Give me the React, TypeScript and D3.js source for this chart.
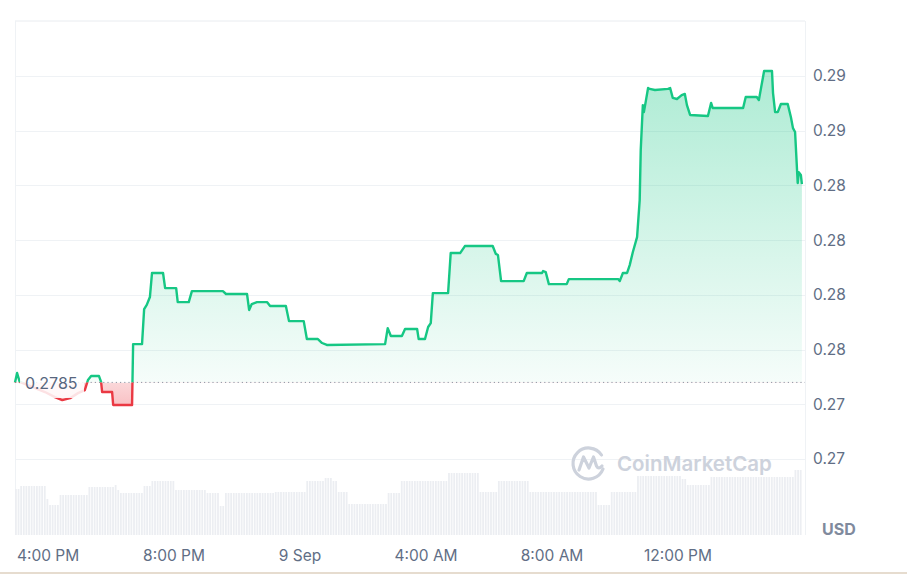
import React from "react";
import * as d3 from "d3";

// ---- data ----
const times = [
  "2024-09-08 14:57", "2024-09-08 15:01", "2024-09-08 15:06", "2024-09-08 15:26", "2024-09-08 15:54",
  "2024-09-08 16:13", "2024-09-08 16:27", "2024-09-08 16:42", "2024-09-08 16:57", "2024-09-08 17:10",
  "2024-09-08 17:16", "2024-09-08 17:22", "2024-09-08 17:37", "2024-09-08 17:41", "2024-09-08 17:43",
  "2024-09-08 18:02", "2024-09-08 18:04", "2024-09-08 18:40", "2024-09-08 18:42", "2024-09-08 18:59",
  "2024-09-08 19:03", "2024-09-08 19:08", "2024-09-08 19:14", "2024-09-08 19:18", "2024-09-08 19:39",
  "2024-09-08 19:43", "2024-09-08 20:04", "2024-09-08 20:07", "2024-09-08 20:28", "2024-09-08 20:34",
  "2024-09-08 21:33", "2024-09-08 21:39", "2024-09-08 22:19", "2024-09-08 22:23", "2024-09-08 22:28",
  "2024-09-08 22:38", "2024-09-08 22:57", "2024-09-08 23:03", "2024-09-08 23:33", "2024-09-08 23:39",
  "2024-09-09 00:07", "2024-09-09 00:13", "2024-09-09 00:34", "2024-09-09 00:42", "2024-09-09 00:51",
  "2024-09-09 02:42", "2024-09-09 02:47", "2024-09-09 02:53", "2024-09-09 03:14", "2024-09-09 03:20",
  "2024-09-09 03:43", "2024-09-09 03:46", "2024-09-09 03:58", "2024-09-09 04:04", "2024-09-09 04:09",
  "2024-09-09 04:13", "2024-09-09 04:42", "2024-09-09 04:47", "2024-09-09 05:05", "2024-09-09 05:14",
  "2024-09-09 06:07", "2024-09-09 06:13", "2024-09-09 06:17", "2024-09-09 06:23", "2024-09-09 07:06",
  "2024-09-09 07:12", "2024-09-09 07:41", "2024-09-09 07:43", "2024-09-09 07:48", "2024-09-09 07:54",
  "2024-09-09 08:28", "2024-09-09 08:32", "2024-09-09 10:06", "2024-09-09 10:09", "2024-09-09 10:15",
  "2024-09-09 10:23", "2024-09-09 10:28", "2024-09-09 10:34", "2024-09-09 10:42", "2024-09-09 10:47",
  "2024-09-09 10:49", "2024-09-09 10:53", "2024-09-09 10:55", "2024-09-09 10:59", "2024-09-09 11:03",
  "2024-09-09 11:06", "2024-09-09 11:16", "2024-09-09 11:41", "2024-09-09 11:45", "2024-09-09 11:50",
  "2024-09-09 11:58", "2024-09-09 12:07", "2024-09-09 12:13", "2024-09-09 12:17", "2024-09-09 12:23",
  "2024-09-09 12:57", "2024-09-09 13:03", "2024-09-09 13:06", "2024-09-09 14:04", "2024-09-09 14:09",
  "2024-09-09 14:30", "2024-09-09 14:34", "2024-09-09 14:44", "2024-09-09 14:59", "2024-09-09 15:01",
  "2024-09-09 15:05", "2024-09-09 15:10", "2024-09-09 15:16", "2024-09-09 15:29", "2024-09-09 15:35",
  "2024-09-09 15:39", "2024-09-09 15:43", "2024-09-09 15:48", "2024-09-09 15:50", "2024-09-09 15:54",
  "2024-09-09 15:56",
];

const prices = [
  0.2785, 0.27893, 0.27852, 0.27833, 0.27806,
  0.27783, 0.27769, 0.27778, 0.27801, 0.27815,
  0.27861, 0.27879, 0.27879, 0.27852, 0.27806,
  0.27806, 0.27747, 0.27747, 0.28025, 0.28025,
  0.28185, 0.28204, 0.2824, 0.2835, 0.2835,
  0.28281, 0.28281, 0.28217, 0.28217, 0.28267,
  0.28267, 0.28254, 0.28254, 0.28181, 0.28208,
  0.28217, 0.28217, 0.28199, 0.28199, 0.2813,
  0.2813, 0.28048, 0.28048, 0.2803, 0.28021,
  0.28025, 0.28098, 0.28062, 0.28062, 0.28094,
  0.28094, 0.28048, 0.28048, 0.28103, 0.28121,
  0.28258, 0.28258, 0.28441, 0.28441, 0.28473,
  0.28473, 0.28437, 0.28432, 0.28313, 0.28313,
  0.2835, 0.2835, 0.28359, 0.28354, 0.28299,
  0.28299, 0.28322, 0.28322, 0.28313, 0.2835,
  0.2835, 0.28386, 0.28446, 0.28514, 0.28683,
  0.28912, 0.29117, 0.29085, 0.2914, 0.29195,
  0.29191, 0.29186, 0.29191, 0.29195, 0.2915,
  0.29145, 0.29163, 0.29168, 0.29117, 0.29072,
  0.29067, 0.29127, 0.29104, 0.29104, 0.29154,
  0.29154, 0.2914, 0.29273, 0.29273, 0.29172,
  0.29085, 0.29085, 0.29122, 0.29122, 0.29063,
  0.29012, 0.28994, 0.28761, 0.28811, 0.28798,
  0.28756,
];

// 5-minute volume bars (millions), starting at volumeStart
const volumeStart = "2024-09-08 14:57";
const volumes = [
  4.6, 4.6, 4.9, 4.9, 4.9, 4.9, 4.9, 4.9, 4.9, 4.9, 4.9, 4.9, 3.6, 3.0, 3.0, 3.0, 3.0,
  4.0, 4.0, 4.0, 4.0, 4.0, 4.0, 4.0, 4.0, 4.0, 4.0, 4.0,
  4.8, 4.8, 4.8, 4.8, 4.8, 4.8, 4.8, 4.8, 4.8, 4.8, 5.0, 4.5,
  4.2, 4.2, 4.2, 4.2, 4.2, 4.2, 4.2, 4.2, 4.2, 4.9, 4.9, 4.9,
  5.4, 5.4, 5.4, 5.4, 5.4, 5.4, 5.4, 5.4, 5.4,
  4.5, 4.5, 4.5, 4.5, 4.5, 4.5, 4.5, 4.5, 4.5, 4.5, 4.5, 4.5,
  4.2, 4.2, 4.2, 4.2, 4.2, 2.9, 2.9,
  4.2, 4.2, 4.2, 4.2, 4.2, 4.2, 4.2, 4.2, 4.2, 4.2, 4.2, 4.2, 4.2, 4.2, 4.2, 4.2, 4.2, 4.2, 4.2,
  4.3, 4.3, 4.3, 4.3, 4.3, 4.3, 4.3, 4.3, 4.3, 4.3, 4.3, 4.3,
  5.4, 5.4, 5.4, 5.4, 5.4, 5.4, 5.4, 5.7, 5.7, 5.7, 5.4, 5.4,
  4.3, 4.3, 4.3, 4.3,
  3.1, 3.1, 3.1, 3.1, 3.1, 3.1, 3.1, 3.1, 3.1, 3.1, 3.1, 3.1, 3.1, 3.1, 3.1,
  4.2, 4.2, 4.2, 4.2, 4.2,
  5.4, 5.4, 5.4, 5.4, 5.4, 5.4, 5.4, 5.4, 5.4, 5.4, 5.4, 5.4, 5.4, 5.4, 5.4, 5.4, 5.4, 5.4,
  6.2, 6.2, 6.2, 6.2, 6.2, 6.2, 6.2, 6.2, 6.2, 6.2, 6.2, 6.2,
  4.3, 4.3, 4.3, 4.3, 4.3, 4.3, 4.3,
  5.4, 5.4, 5.4, 5.4, 5.4, 5.4, 5.4, 5.4, 5.4, 5.4, 5.4, 5.4,
  4.3, 4.3, 4.3, 4.3, 4.3, 4.3, 4.3, 4.3, 4.3, 4.3, 4.3, 4.3, 4.3,
  4.3, 4.3, 4.3, 4.3, 4.3, 4.3, 4.3, 4.3, 4.3, 4.3, 4.3, 4.3, 4.3,
  3.0, 3.0, 3.0, 3.0, 3.0,
  4.3, 4.3, 4.3, 4.3, 4.3, 4.3, 4.3, 4.3, 4.3, 4.3,
  5.9, 5.9, 5.9, 5.9, 5.9, 5.9, 5.9, 5.9, 5.9, 5.9, 5.9, 5.9, 5.9, 5.9, 5.9, 5.9, 5.9,
  5.6, 5.6,
  5.0, 5.0, 5.0, 5.0, 5.0, 5.0, 5.0, 5.0, 5.0,
  5.8, 5.8, 5.8, 5.8, 5.8, 5.8, 5.8, 5.8, 5.8, 5.8, 5.8, 5.8, 5.8, 5.8, 5.8, 5.8,
  5.8, 5.8, 5.8, 5.8, 5.8, 5.8, 5.8, 5.8, 5.8, 5.8, 5.8, 5.8, 5.8, 5.8, 5.8, 5.8,
  6.5, 6.5, 6.5,
];

const baselinePrice = 0.2785;
const baselineLabel = "0.2785";

const yTicks = [0.275, 0.2775, 0.28, 0.2825, 0.285, 0.2875, 0.29, 0.2925];
const yTickLabels = ["0.27", "0.27", "0.28", "0.28", "0.28", "0.28", "0.29", "0.29"];

const xTicks = [
  "2024-09-08 16:00", "2024-09-08 20:00", "2024-09-09 00:00",
  "2024-09-09 04:00", "2024-09-09 08:00", "2024-09-09 12:00",
];
const xTickLabels = ["4:00 PM", "8:00 PM", "9 Sep", "4:00 AM", "8:00 AM", "12:00 PM"];

const currencyLabel = "USD";
const watermark = "CoinMarketCap";

// ---- layout ----
const W = 907;
const H = 574;
const left = 15;
const right = 804;
const top = 21;
const bottom = 535;
const GREEN = "#16c784";
const RED = "#ea3943";
const FONT = "Inter, 'Noto Sans', sans-serif";

const parse = d3.timeParse("%Y-%m-%d %H:%M");

export default function App() {
  const data = times.map((t, i) => ({ t: parse(t) as Date, v: prices[i] }));
  const x = d3
    .scaleTime()
    .domain([parse("2024-09-08 14:57") as Date, parse("2024-09-09 16:00") as Date])
    .range([left, right]);
  const y = d3.scaleLinear().domain([0.271527, 0.295014]).range([bottom, top]);
  const yv = d3.scaleLinear().domain([0, 10]).range([bottom, bottom - 100]);
  const yBase = y(baselinePrice);

  const line = d3
    .line<{ t: Date; v: number }>()
    .x((d) => x(d.t))
    .y((d) => y(d.v));
  const area = d3
    .area<{ t: Date; v: number }>()
    .x((d) => x(d.t))
    .y0(yBase)
    .y1((d) => y(d.v));

  const vStart = parse(volumeStart) as Date;
  const barStep = x(d3.timeMinute.offset(vStart, 5)) - x(vStart);

  return (
    <svg
      width={W}
      height={H}
      style={{ position: "absolute", left: 0, top: 0, background: "#fff" }}
      fontFamily={FONT}
    >
      <defs>
        <clipPath id="above">
          <rect x={0} y={0} width={W} height={yBase} />
        </clipPath>
        <clipPath id="below">
          <rect x={0} y={yBase} width={W} height={H - yBase} />
        </clipPath>
        <linearGradient id="gGreen" gradientUnits="userSpaceOnUse" x1={0} y1={top} x2={0} y2={yBase}>
          <stop offset="0%" stopColor={GREEN} stopOpacity={0.4} />
          <stop offset="100%" stopColor={GREEN} stopOpacity={0.04} />
        </linearGradient>
        <linearGradient id="gRed" gradientUnits="userSpaceOnUse" x1={0} y1={yBase} x2={0} y2={yBase + 30}>
          <stop offset="0%" stopColor={RED} stopOpacity={0.2} />
          <stop offset="100%" stopColor={RED} stopOpacity={0.35} />
        </linearGradient>
      </defs>

      {/* grid */}
      <line x1={left} x2={805} y1={top} y2={top} stroke="#e9ecf0" />
      {yTicks.map((t) => (
        <line key={t} x1={left} x2={805} y1={Math.round(y(t)) + 0.5} y2={Math.round(y(t)) + 0.5} stroke="#eff2f5" />
      ))}
      <line x1={left + 0.5} x2={left + 0.5} y1={top} y2={bottom} stroke="#eff2f5" />
      <line x1={805.5} x2={805.5} y1={top} y2={bottom} stroke="#eff2f5" />

      {/* volume */}
      {volumes.map((v, i) => {
        const t = d3.timeMinute.offset(vStart, 5 * i);
        return (
          <rect
            key={i}
            x={x(t)}
            y={yv(v)}
            width={barStep * 0.68}
            height={bottom - yv(v)}
            fill="#eceef2"
          />
        );
      })}

      {/* watermark */}
      <g fill="none" stroke="#cdd2dc" strokeWidth={3.2} strokeLinecap="round" strokeLinejoin="round">
        <path d="M 601.5 455 A 15.5 15.5 0 1 0 603 469" />
        <path d="M 579 470 L 583.5 457 L 589 468 L 593.5 457 L 596.5 466 Q 598.5 470 602 466" />
      </g>
      <text x={617} y={471} fontSize={20.5} fontWeight={600} fill="#cdd2dc">
        {watermark}
      </text>

      {/* price areas */}
      <path d={area(data) || ""} fill="url(#gGreen)" clipPath="url(#above)" />
      <path d={area(data) || ""} fill="url(#gRed)" clipPath="url(#below)" />

      {/* baseline */}
      <line
        x1={left}
        x2={805}
        y1={yBase}
        y2={yBase}
        stroke="#8d94a3"
        strokeWidth={1}
        strokeDasharray="1.2 3"
      />

      {/* price line */}
      <path d={line(data) || ""} fill="none" stroke={GREEN} strokeWidth={2.4} strokeLinejoin="round" clipPath="url(#above)" />
      <path d={line(data) || ""} fill="none" stroke={RED} strokeWidth={2.4} strokeLinejoin="round" clipPath="url(#below)" />

      {/* baseline label */}
      <rect x={20} y={370} width={64} height={28} fill="#fff" opacity={0.85} rx={2} />
      <text x={25} y={389} fontSize={16} fill="#58667e">
        {baselineLabel}
      </text>

      {/* y axis labels */}
      {yTicks.map((t, i) => (
        <text key={t} x={813} y={y(t)} dy="0.35em" fontSize={15.5} fill="#616e85">
          {yTickLabels[i]}
        </text>
      ))}
      <text x={822} y={535} fontSize={16} fontWeight={700} fill="#808a9d">
        {currencyLabel}
      </text>

      {/* x axis labels */}
      {xTicks.map((t, i) => (
        <text
          key={t}
          x={x(parse(t) as Date)}
          y={561}
          textAnchor="middle"
          fontSize={15.5}
          fill="#616e85"
        >
          {xTickLabels[i]}
        </text>
      ))}

      {/* bottom edge */}
      <rect x={0} y={572} width={W} height={2} fill="#e6dccf" />
    </svg>
  );
}
